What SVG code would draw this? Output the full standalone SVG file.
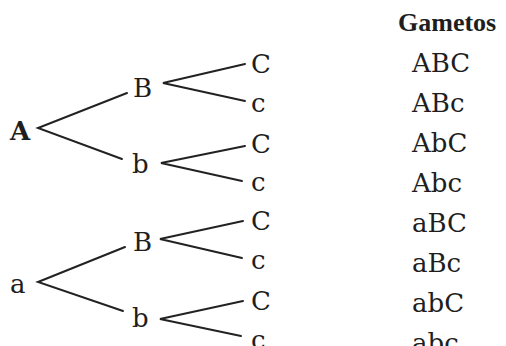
<svg xmlns="http://www.w3.org/2000/svg" width="506" height="346" viewBox="0 0 506 346">
  <style>
    .t { font-family: "DejaVu Serif", "Liberation Serif", serif; font-size: 26px; fill: #1e1e1e; }
    .bold { font-weight: bold; }
    .head { font-family: "Liberation Serif", "DejaVu Serif", serif; font-size: 26px; font-weight: bold; fill: #1e1e1e; }
    .edge { stroke: #222; stroke-width: 2; fill: none; stroke-linecap: round; }
  </style>
  <rect width="506" height="346" fill="#ffffff"/>

  <!-- branching connectors -->
  <g id="connectors">
    <path class="edge" d="M127,93 L38,128 L122,159"/>
    <path class="edge" d="M245,64 L163,83 L245,101"/>
    <path class="edge" d="M245,146 L161,163 L242,181"/>
    <path class="edge" d="M125,247 L38,282 L123,311"/>
    <path class="edge" d="M243,221 L160,239 L242,258"/>
    <path class="edge" d="M243,301 L160,319 L241,336"/>
  </g>

  <!-- first locus -->
  <g id="node-A"><text class="t bold" x="10" y="140">A</text></g>
  <g id="node-a"><text class="t" x="10" y="293">a</text></g>

  <!-- second locus -->
  <g id="node-A-B"><text class="t" x="133" y="97">B</text></g>
  <g id="node-A-b"><text class="t" x="132" y="173">b</text></g>
  <g id="node-a-B"><text class="t" x="133" y="251">B</text></g>
  <g id="node-a-b"><text class="t" x="132" y="327">b</text></g>

  <!-- third locus -->
  <g id="node-AB-C"><text class="t" x="251" y="73">C</text></g>
  <g id="node-AB-c"><text class="t" x="251" y="112">c</text></g>
  <g id="node-Ab-C"><text class="t" x="251" y="153">C</text></g>
  <g id="node-Ab-c"><text class="t" x="251" y="191">c</text></g>
  <g id="node-aB-C"><text class="t" x="251" y="230">C</text></g>
  <g id="node-aB-c"><text class="t" x="251" y="269">c</text></g>
  <g id="node-ab-C"><text class="t" x="251" y="310">C</text></g>
  <g id="node-ab-c"><text class="t" x="251" y="349">c</text></g>

  <!-- gamete list -->
  <g id="gametes">
    <text class="head" x="398" y="31">Gametos</text>
    <text class="t" x="412" y="72">ABC</text>
    <text class="t" x="412" y="112">ABc</text>
    <text class="t" x="412" y="152">AbC</text>
    <text class="t" x="412" y="192">Abc</text>
    <text class="t" x="412" y="232">aBC</text>
    <text class="t" x="412" y="272">aBc</text>
    <text class="t" x="412" y="312">abC</text>
    <text class="t" x="412" y="352">abc</text>
  </g>
</svg>
